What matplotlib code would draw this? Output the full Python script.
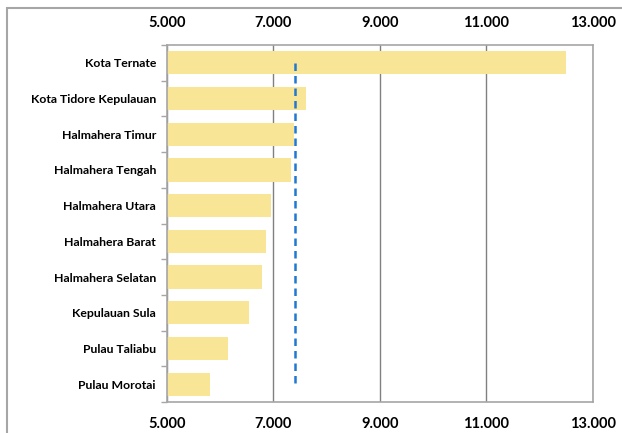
import matplotlib
matplotlib.use('Agg')
import matplotlib.pyplot as plt
import matplotlib.ticker as mticker
from matplotlib.patches import Rectangle

# data
regions = ['Kota Ternate', 'Kota Tidore Kepulauan', 'Halmahera Timur',
           'Halmahera Tengah', 'Halmahera Utara', 'Halmahera Barat',
           'Halmahera Selatan', 'Kepulauan Sula', 'Pulau Taliabu',
           'Pulau Morotai']
values = [12500, 7610, 7390, 7340, 6950, 6870, 6780, 6535, 6150, 5800]
avg_line = 7405
xticks = [5000, 7000, 9000, 11000, 13000]
xtick_labels = ['5.000', '7.000', '9.000', '11.000', '13.000']

plt.rcParams['font.family'] = ['Lato', 'DejaVu Sans']

fig = plt.figure(figsize=(6.22, 4.33), dpi=100)
ax = fig.add_axes([0.2685, 0.0716, 0.9526 - 0.2685, 0.896 - 0.0716])

# outer chart frame (cropped on the right and bottom)
fig.patches.append(Rectangle((7 / 622, -0.1), 1.2, (433 - 8) / 433 + 0.1,
                             transform=fig.transFigure, fill=False,
                             edgecolor='#a6a6a6', linewidth=1.5, zorder=0))

ypos = list(range(len(regions)))
ax.barh(ypos, values, height=0.65, color='#f9e596', zorder=2)
ax.plot([avg_line] * 2, [ypos[0], ypos[-1]], color='#1f78d1',
        linewidth=1.8, linestyle=(0, (3, 2)), zorder=3)

ax.set_xlim(5000, 13000)
ax.set_ylim(len(regions) - 0.5, -0.5)
ax.set_xticks(xticks)
ax.set_xticklabels(xtick_labels)
ax.set_yticks(ypos)
ax.set_yticklabels(regions)
ax.yaxis.set_minor_locator(mticker.FixedLocator([i - 0.5 for i in range(len(regions) + 1)]))

ax.tick_params(axis='x', which='both', length=0, pad=11, labelsize=10.5,
               top=True, labeltop=True, bottom=True, labelbottom=True)
ax.tick_params(axis='y', which='major', length=0, pad=8, labelsize=8.8)
ax.tick_params(axis='y', which='minor', length=4, color='#a6a6a6', width=1)
for lbl in ax.get_xticklabels() + ax.get_yticklabels():
    lbl.set_fontweight('bold')

ax.grid(axis='x', color='#808080', linewidth=1, zorder=1)
ax.set_axisbelow(True)
for s in ax.spines.values():
    s.set_color('#a6a6a6')
    s.set_linewidth(1.2)

fig.savefig('out.png', dpi=100)
